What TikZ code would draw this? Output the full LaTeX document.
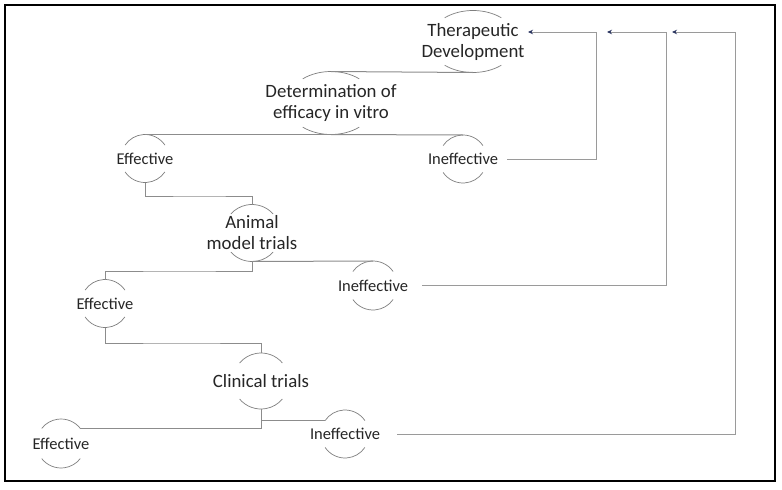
\documentclass[tikz,border=0pt]{standalone}
\usepackage{fontspec}
\setmainfont{Carlito}
\usetikzlibrary{calc,arrows.meta}
\definecolor{txt}{HTML}{262626}
\definecolor{halocol}{HTML}{7F7F7F}
\definecolor{conncol}{HTML}{8C8C8C}
\definecolor{retcol}{HTML}{9A9A9A}
\definecolor{tipcol}{HTML}{2B3560}
\newcommand{\bub}[8]{%
 \node[#8] (#1) at (#2,#3) {#7};
 \coordinate (#1-n) at ($(#1.center)+(0,#5)$);
 \coordinate (#1-s) at ($(#1.center)+(0,-#5)$);
 \draw[halo] ($(#1.center)+({90-#6}:#4 and #5)$) arc[start angle=90-#6,end angle=90+#6,x radius=#4,y radius=#5];
 \draw[halo] ($(#1.center)+({270-#6}:#4 and #5)$) arc[start angle=270-#6,end angle=270+#6,x radius=#4,y radius=#5];
}
\begin{document}
\begin{tikzpicture}[x=1pt,y=1pt,
 big/.style={font=\fontsize{18.8}{21}\selectfont, text=txt, align=center, inner sep=0pt},
 small/.style={font=\fontsize{16.5}{19}\selectfont, text=txt, inner sep=0pt},
 halo/.style={draw=halocol, line width=0.7pt},
 conn/.style={draw=conncol, line width=1pt},
 ret/.style={draw=retcol, line width=1pt, -{Stealth[length=5pt,width=4.5pt,color=tipcol]}}]
\useasboundingbox (0,0) rectangle (782,-490);
\fill[white] (0,0) rectangle (782,-490);
\draw[line width=2.2pt] (5,-5) rectangle (775,-481);

\bub{td}{473}{-41.5}{44}{31}{40}{Therapeutic\\Development}{big}
\bub{dv}{331}{-103}{44}{31.5}{40}{Determination of\\efficacy in vitro}{big}
\bub{eA}{145}{-158.5}{24}{24}{56}{Effective}{small}
\bub{iA}{463}{-159}{24}{24}{56}{Ineffective}{small}
\bub{am}{252}{-233}{28.5}{28.5}{48}{Animal\\model trials}{big}
\bub{iB}{373}{-285.5}{24.5}{24.5}{55}{Ineffective}{small}
\bub{eB}{105}{-303.5}{24}{24}{56}{Effective}{small}
\bub{ct}{261}{-381}{28}{28}{50}{Clinical trials}{big}
\bub{eC}{61}{-443.5}{24.5}{24.5}{52}{Effective}{small}
\bub{iC}{345}{-434}{24}{24}{56}{Ineffective}{small}

\draw[conn] (td-s) -- (dv-n);
\draw[conn] (dv-s) -- (eA-n);
\draw[conn] (dv-s) -- (iA-n);
\coordinate (jA) at (200,-196);
\draw[conn] (eA-s) |- (jA) -| (am-n);
\coordinate (jB) at (180,-271);
\draw[conn] (am-s) |- (jB) -| (eB-n);
\draw[conn] (am-s) -- (iB-n);
\coordinate (jC) at (180,-343);
\draw[conn] (eB-s) |- (jC) -| (ct-n);
\coordinate (eC-ne) at ($(eC.center)+(38:24.5)$);
\coordinate (iC-nw) at ($(iC.center)+(146:24)$);
\draw[conn] (ct-s) |- (eC-ne);
\draw[conn] (ct-s) |- (iC-nw);

\coordinate (kA) at (596,-32);
\coordinate (tA) at (528,-32);
\draw[ret, shorten <=9pt] (iA.east) -| (kA) -- (tA);
\coordinate (kB) at (666,-32);
\coordinate (tB) at (607,-32);
\draw[ret, shorten <=14pt] (iB.east) -| (kB) -- (tB);
\coordinate (kC) at (735,-32);
\coordinate (tC) at (672,-32);
\draw[ret, shorten <=17pt] (iC.east) -| (kC) -- (tC);
\end{tikzpicture}
\end{document}
